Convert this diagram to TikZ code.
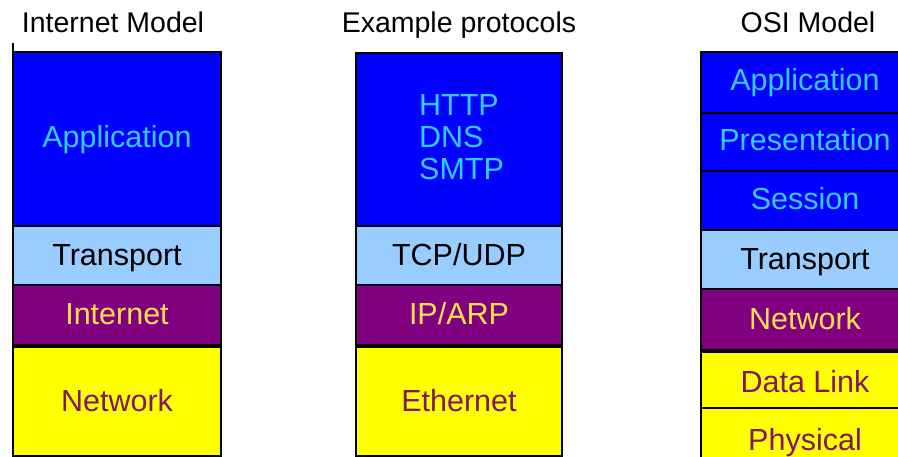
\documentclass[tikz,border=0pt]{standalone}
\usepackage{fontspec}
\setmainfont{Liberation Sans}
\definecolor{appblue}{RGB}{0,0,255}
\definecolor{apptext}{RGB}{51,204,255}
\definecolor{transblue}{RGB}{153,204,255}
\definecolor{netpurple}{RGB}{128,0,128}
\definecolor{nettext}{RGB}{255,224,77}
\definecolor{linkyellow}{RGB}{255,255,0}
\definecolor{linktext}{RGB}{128,24,96}
\tikzset{
  layer/.style={draw=black, line width=1.5pt, inner sep=0pt},
  lbl/.style={anchor=base, inner sep=0pt, font=\fontsize{30.5}{33}\selectfont},
  heading/.style={anchor=base, inner sep=0pt, font=\fontsize{28.5}{31}\selectfont},
}
\begin{document}
\begin{tikzpicture}[x=1pt,y=-1pt]
\useasboundingbox (0,0) rectangle (898,457);
\clip (0,0) rectangle (898,457);

% headings
\node[heading] (h1) at (113,33) {Internet Model};
\node[heading] (h2) at (459,33) {Example protocols};
\node[heading] (h3) at (808,33) {OSI Model};

% Internet model stack
\draw[layer, fill=appblue]   (13,52)  rectangle (221,226);
\draw[layer, fill=transblue] (13,226) rectangle (221,285);
\draw[layer, fill=netpurple] (13,285) rectangle (221,345);
\draw[layer, fill=linkyellow](13,347) rectangle (221,456);
\draw[line width=2.5pt] (13,43) -- (13,456);
\node[lbl, text=apptext]   (iapp) at (117,148) {Application};
\node[lbl, text=black]     (itr)  at (117,266) {Transport};
\node[lbl, text=nettext]   (iin)  at (117,325) {Internet};
\node[lbl, text=linktext]  (inw)  at (117,412) {Network};

% Example protocols stack
\draw[layer, fill=appblue]   (356,53)  rectangle (562,226);
\draw[layer, fill=transblue] (356,226) rectangle (562,285);
\draw[layer, fill=netpurple] (356,285) rectangle (562,345);
\draw[layer, fill=linkyellow](356,347) rectangle (562,456);
\node[lbl, text=apptext, anchor=base west] (ehttp) at (419,116) {HTTP};
\node[lbl, text=apptext, anchor=base west] (edns)  at (419,148) {DNS};
\node[lbl, text=apptext, anchor=base west] (esmtp) at (419,180) {SMTP};
\node[lbl, text=black]    (etcp) at (459,266) {TCP/UDP};
\node[lbl, text=nettext]  (eip)  at (459,325) {IP/ARP};
\node[lbl, text=linktext] (eeth) at (459,412) {Ethernet};

% OSI model stack
\draw[layer, fill=appblue]   (701,52)  rectangle (910,113);
\draw[layer, fill=appblue]   (701,113) rectangle (910,171);
\draw[layer, fill=appblue]   (701,171) rectangle (910,230);
\draw[layer, fill=transblue] (701,230) rectangle (910,289);
\draw[layer, fill=netpurple] (701,289) rectangle (910,350);
\draw[layer, fill=linkyellow](701,352) rectangle (910,408);
\draw[layer, fill=linkyellow](701,408) rectangle (910,470);
\node[lbl, text=apptext]  (oapp) at (805,91)  {Application};
\node[lbl, text=apptext]  (opre) at (805,151) {Presentation};
\node[lbl, text=apptext]  (oses) at (805,210) {Session};
\node[lbl, text=black]    (otr)  at (805,270) {Transport};
\node[lbl, text=nettext]  (onw)  at (805,330) {Network};
\node[lbl, text=linktext] (odl)  at (805,392) {Data Link};
\node[lbl, text=linktext] (oph)  at (805,450) {Physical};
\end{tikzpicture}
\end{document}
